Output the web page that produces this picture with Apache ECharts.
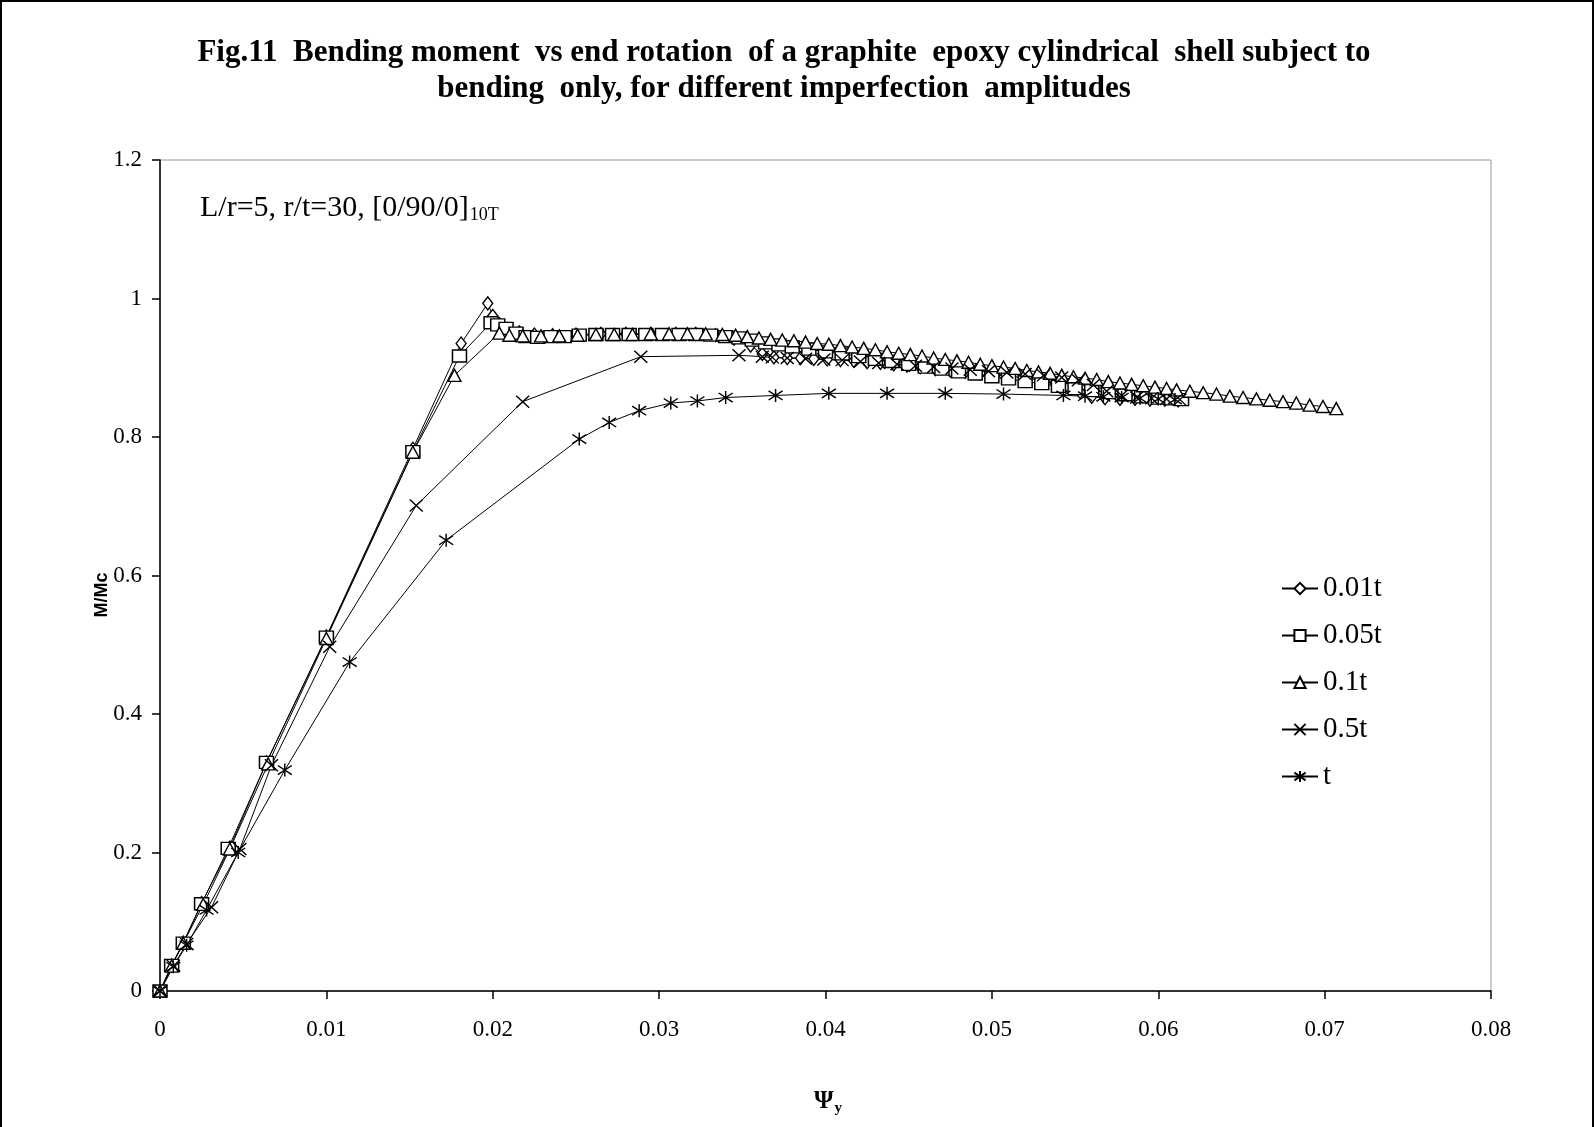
<!DOCTYPE html>
<html>
<head>
<meta charset="utf-8">
<script src="https://cdn.jsdelivr.net/npm/echarts@6/dist/echarts.min.js"></script>
<style>
html,body{margin:0;padding:0;background:#fff;}
#c{width:1595px;height:1127px;}
</style>
</head>
<body>
<div id="c"></div>
<script>
// ---- data ----
const seriesNames = ['0.01t', '0.05t', '0.1t', '0.5t', 't'];
const xTickLabels = ['0', '0.01', '0.02', '0.03', '0.04', '0.05', '0.06', '0.07', '0.08'];
const yTickLabels = ['0', '0.2', '0.4', '0.6', '0.8', '1', '1.2'];

const amp001 = [[0,0],[0.0007,0.037],[0.0014,0.070],[0.0025,0.127],[0.0042,0.207],[0.0064,0.330],[0.0100,0.512],[0.0152,0.783],[0.0181,0.935],[0.0197,0.993],[0.0200,0.975],[0.0204,0.963],[0.0209,0.956],[0.0216,0.951],[0.0225,0.948],[0.0236,0.947],[0.0250,0.948],[0.0265,0.949],[0.0280,0.949],[0.0295,0.949],[0.0310,0.949],[0.0322,0.949],[0.0334,0.947],[0.0345,0.942],[0.0355,0.932],[0.0362,0.920],[0.0369,0.915],[0.0377,0.914],[0.0385,0.914],[0.0393,0.913],[0.0401,0.912],[0.0409,0.911],[0.0417,0.910],[0.0425,0.908],[0.0433,0.907],[0.0441,0.905],[0.0449,0.903],[0.0457,0.901],[0.0466,0.898],[0.0475,0.896],[0.0484,0.894],[0.0493,0.892],[0.0502,0.890],[0.0511,0.888],[0.0520,0.885],[0.0529,0.882],[0.0538,0.878],[0.0546,0.872],[0.0553,0.865],[0.0560,0.858],[0.0568,0.856],[0.0577,0.855],[0.0586,0.855],[0.0595,0.854],[0.0604,0.854],[0.0612,0.853]];

const amp005 = [[0,0],[0.0007,0.037],[0.0014,0.069],[0.0025,0.126],[0.0041,0.206],[0.0064,0.330],[0.0100,0.511],[0.0152,0.779],[0.0180,0.917],[0.0199,0.965],[0.0203,0.962],[0.0208,0.957],[0.0214,0.950],[0.0220,0.945],[0.0227,0.944],[0.0235,0.945],[0.0243,0.945],[0.0252,0.947],[0.0262,0.948],[0.0272,0.948],[0.0282,0.948],[0.0292,0.948],[0.0302,0.948],[0.0312,0.948],[0.0322,0.948],[0.0331,0.947],[0.0340,0.945],[0.0348,0.943],[0.0356,0.940],[0.0364,0.936],[0.0372,0.933],[0.0380,0.930],[0.0390,0.927],[0.0400,0.923],[0.0410,0.920],[0.0420,0.916],[0.0430,0.912],[0.0440,0.909],[0.0450,0.905],[0.0460,0.901],[0.0470,0.898],[0.0480,0.894],[0.0490,0.891],[0.0500,0.887],[0.0510,0.884],[0.0520,0.880],[0.0530,0.877],[0.0540,0.873],[0.0550,0.870],[0.0560,0.867],[0.0570,0.864],[0.0580,0.861],[0.0590,0.858],[0.0600,0.856],[0.0608,0.855],[0.0614,0.854]];

const amp01 = [[0,0],[0.0007,0.036],[0.0014,0.069],[0.0026,0.125],[0.0042,0.205],[0.0065,0.328],[0.0100,0.509],[0.0152,0.778],[0.0177,0.889],[0.0204,0.950],[0.0210,0.947],[0.0218,0.946],[0.0229,0.946],[0.0240,0.946],[0.0251,0.947],[0.0262,0.948],[0.0273,0.948],[0.0284,0.948],[0.0295,0.949],[0.0306,0.949],[0.0317,0.949],[0.0328,0.949],[0.0338,0.948],[0.0346,0.947],[0.0353,0.945],[0.0360,0.943],[0.0367,0.941],[0.0374,0.940],[0.0381,0.939],[0.0388,0.937],[0.0395,0.935],[0.0402,0.934],[0.0409,0.932],[0.0416,0.930],[0.0423,0.928],[0.0430,0.926],[0.0437,0.923],[0.0444,0.921],[0.0451,0.919],[0.0458,0.917],[0.0465,0.914],[0.0472,0.912],[0.0479,0.910],[0.0486,0.908],[0.0493,0.905],[0.0500,0.903],[0.0507,0.901],[0.0514,0.899],[0.0521,0.896],[0.0528,0.894],[0.0535,0.892],[0.0542,0.889],[0.0549,0.887],[0.0556,0.885],[0.0563,0.883],[0.0570,0.880],[0.0577,0.878],[0.0584,0.876],[0.0591,0.874],[0.0598,0.872],[0.0605,0.870],[0.0611,0.868],[0.0619,0.866],[0.0627,0.864],[0.0635,0.862],[0.0643,0.859],[0.0651,0.857],[0.0659,0.855],[0.0667,0.853],[0.0675,0.851],[0.0683,0.849],[0.0691,0.846],[0.0699,0.844],[0.0707,0.841]];

const amp05 = [[0,0],[0.0008,0.036],[0.0016,0.068],[0.0031,0.121],[0.0048,0.205],[0.0067,0.326],[0.0102,0.497],[0.0154,0.701],[0.0218,0.851],[0.0289,0.916],[0.0348,0.918],[0.0362,0.916],[0.0368,0.915],[0.0377,0.914],[0.0388,0.913],[0.0399,0.912],[0.0410,0.911],[0.0421,0.909],[0.0432,0.907],[0.0443,0.905],[0.0454,0.903],[0.0465,0.901],[0.0476,0.899],[0.0487,0.897],[0.0498,0.895],[0.0509,0.893],[0.0520,0.891],[0.0531,0.889],[0.0542,0.886],[0.0552,0.882],[0.0561,0.875],[0.0569,0.866],[0.0578,0.860],[0.0587,0.857],[0.0596,0.856],[0.0605,0.855],[0.0613,0.854]];

const amp1 = [[0,0],[0.0008,0.035],[0.0016,0.066],[0.0028,0.117],[0.0047,0.200],[0.0075,0.319],[0.0114,0.475],[0.0172,0.651],[0.0252,0.797],[0.0270,0.821],[0.0288,0.838],[0.0307,0.849],[0.0323,0.852],[0.0340,0.857],[0.0370,0.860],[0.0402,0.863],[0.0437,0.863],[0.0472,0.863],[0.0507,0.862],[0.0543,0.860],[0.0556,0.859],[0.0567,0.858],[0.0578,0.857],[0.0589,0.856],[0.0600,0.855],[0.0610,0.854]];

// ---- chart ----
const serif = '"Liberation Serif", "Times New Roman", serif';
const seriesData = [amp001, amp005, amp01, amp05, amp1];
const symbols = [
  'diamond',
  'rect',
  'triangle',
  'path://M0,0L10,10M10,0L0,10',
  'path://M5,0L5,10M0.7,1.5L9.3,8.5M9.3,1.5L0.7,8.5'
];
const symSizes = [[10, 13], [14, 12], [13, 12], [13, 12], [14, 13]];

const chart = echarts.init(document.getElementById('c'), null, {renderer: 'canvas'});

const series = seriesNames.map((n, i) => ({
  name: n,
  type: 'line',
  data: seriesData[i],
  symbol: symbols[i],
  symbolSize: symSizes[i],
  showAllSymbol: true,
  lineStyle: {color: '#000', width: 1},
  itemStyle: {color: '#fff', borderColor: '#000', borderWidth: 1.4},
  emphasis: {disabled: true},
  animation: false
}));

chart.setOption({
  backgroundColor: '#fff',
  animation: false,
  grid: {left: 160, right: 104, top: 160, bottom: 136, show: true, borderColor: '#9a9a9a', borderWidth: 1},
  xAxis: {
    type: 'value', min: 0, max: 0.08, interval: 0.01,
    axisLine: {show: true, lineStyle: {color: '#000', width: 1.5}},
    axisTick: {show: true, inside: false, length: 8, lineStyle: {color: '#000', width: 1.5}},
    axisLabel: {margin: 27, color: '#000', fontFamily: serif, fontSize: 23,
      formatter: v => xTickLabels[Math.round(v / 0.01)]},
    splitLine: {show: false}
  },
  yAxis: {
    type: 'value', min: 0, max: 1.2, interval: 0.2,
    axisLine: {show: true, lineStyle: {color: '#000', width: 1.5}},
    axisTick: {show: true, inside: false, length: 8, lineStyle: {color: '#000', width: 1.5}},
    axisLabel: {margin: 18, color: '#000', fontFamily: serif, fontSize: 23,
      formatter: v => yTickLabels[Math.round(v / 0.2)]},
    splitLine: {show: false}
  },
  legend: {
    orient: 'vertical',
    left: 1276, top: 569,
    itemWidth: 36, itemHeight: 14, itemGap: 18,
    textStyle: {color: '#000', fontFamily: serif, fontSize: 29, lineHeight: 28},
    data: seriesNames
  },
  graphic: [
    {type: 'rect', silent: true, shape: {x: 1, y: 1, width: 1592, height: 1200},
      style: {fill: 'none', stroke: '#000', lineWidth: 2}},
    {type: 'text', silent: true, x: 784, y: 53,
      style: {text: 'Fig.11  Bending moment  vs end rotation  of a graphite  epoxy cylindrical  shell subject to',
        fill: '#000', font: 'bold 31px ' + serif, align: 'center', verticalAlign: 'middle', textAlign: 'center', textVerticalAlign: 'middle'}},
    {type: 'text', silent: true, x: 784, y: 89,
      style: {text: 'bending  only, for different imperfection  amplitudes',
        fill: '#000', font: 'bold 31px ' + serif, align: 'center', verticalAlign: 'middle', textAlign: 'center', textVerticalAlign: 'middle'}},
    {type: 'text', silent: true, x: 200, y: 208,
      style: {text: '{a|L/r=5, r/t=30, [0/90/0]}{b|10T}', fill: '#000',
        align: 'left', verticalAlign: 'middle', textAlign: 'left', textVerticalAlign: 'middle',
        rich: {
          a: {fontFamily: serif, fontSize: 30, lineHeight: 34, verticalAlign: 'middle', fill: '#000', color: '#000'},
          b: {fontFamily: serif, fontSize: 18, lineHeight: 18, padding: [15, 0, 0, 1], verticalAlign: 'middle', fill: '#000', color: '#000'}
        }}},
    {type: 'text', silent: true, x: 102, y: 595, rotation: Math.PI / 2,
      style: {text: 'M/Mc', fill: '#000', font: 'bold 18px "Liberation Sans", Arial, sans-serif',
        align: 'center', verticalAlign: 'middle', textAlign: 'center', textVerticalAlign: 'middle'}},
    {type: 'text', silent: true, x: 828, y: 1102,
      style: {text: '{a|Ψ}{b|y}', fill: '#000',
        align: 'center', verticalAlign: 'middle', textAlign: 'center', textVerticalAlign: 'middle',
        rich: {
          a: {fontFamily: serif, fontWeight: 'bold', fontSize: 25, lineHeight: 30, verticalAlign: 'middle', fill: '#000', color: '#000'},
          b: {fontFamily: serif, fontWeight: 'bold', fontSize: 15, lineHeight: 15, padding: [13, 0, 0, 1], verticalAlign: 'middle', fill: '#000', color: '#000'}
        }}}
  ],
  series: series
});
</script>
</body>
</html>
